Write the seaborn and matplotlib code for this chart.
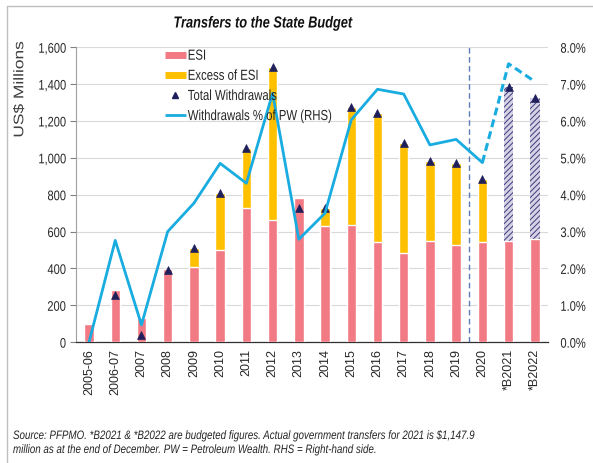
import numpy as np
import pandas as pd
import matplotlib
matplotlib.use("Agg")
import matplotlib.pyplot as plt
import seaborn as sns
from matplotlib.lines import Line2D
from matplotlib.ticker import FuncFormatter
from matplotlib.patheffects import AbstractPathEffect
from matplotlib.transforms import Affine2D

# ---------------- data ----------------
categories = ["2005-06", "2006-07", "2007", "2008", "2009", "2010", "2011", "2012",
              "2013", "2014", "2015", "2016", "2017", "2018", "2019", "2020",
              "*B2021", "*B2022"]
esi = [100, 284, 130, 396, 407, 500, 730, 663, 784, 631, 636, 544, 486, 551, 528, 544, 549, 559]
excess = [0, 0, 0, 0, 103, 308, 322, 832, 0, 99, 638, 698, 593, 432, 443, 342, 834, 764]
withdrawals = [np.nan, 256, 40, 392, 510, 808, 1052, 1495, 727, 730, 1274, 1242, 1079, 983, 971, 886, 1383, 1323]
pct_pw = [0.0, 2.76, 0.47, 3.0, 3.77, 4.85, 4.31, 6.75, 2.79, 3.5, 6.03, 6.86, 6.73, 5.35, 5.5, 4.87, 7.55, 7.07]
budgeted = ["*B2021", "*B2022"]
y_ticks = [0, 200, 400, 600, 800, 1000, 1200, 1400, 1600]
pct_ticks = [0, 1, 2, 3, 4, 5, 6, 7, 8]
legend_labels = ["ESI", "Excess of ESI", "Total Withdrawals", "Withdrawals % of PW (RHS)"]
title = "Transfers to the State Budget"
source_lines = ["Source: PFPMO. *B2021 & *B2022 are budgeted figures. Actual government transfers for 2021 is $1,147.9",
                "million as at the end of December. PW = Petroleum Wealth. RHS = Right-hand side."]

# ---------------- style ----------------
ESI_C = "#F27A84"
EXC_C = "#FFC000"
NAVY = "#1F1F5C"
LINE_C = "#18ACE0"
HATCH_FACE = "#D6D2E6"
HATCH_EDGE = "#3E3A7A"
TXT = "#262626"


class SqueezeX(AbstractPathEffect):
    """Draw text glyphs horizontally condensed (narrow-font look)."""

    def __init__(self, sx=0.8, anchor="center"):
        super().__init__()
        self.sx = sx
        self.anchor = anchor

    def draw_path(self, renderer, gc, tpath, affine, rgbFace=None):
        verts = affine.transform(tpath.vertices)
        if len(verts) == 0:
            return
        xmin, xmax = verts[:, 0].min(), verts[:, 0].max()
        x0 = {"left": xmin, "right": xmax, "center": 0.5 * (xmin + xmax)}[self.anchor]
        new = affine + Affine2D().translate(-x0, 0).scale(self.sx, 1).translate(x0, 0)
        renderer.draw_path(gc, tpath, new, rgbFace)


sns.set_theme(style="white")
plt.rcParams["font.family"] = ["Liberation Sans", "DejaVu Sans"]
plt.rcParams["hatch.linewidth"] = 0.7

n = len(categories)
pos = np.arange(n)
stack_top = [e + x for e, x in zip(esi, excess)]
df = pd.DataFrame({"cat": categories, "esi": esi, "top": stack_top})

fig = plt.figure(figsize=(5.93, 4.63), dpi=100)
ax = fig.add_axes([0.128, 0.261, 0.796, 0.637])

sns.barplot(data=df, x="cat", y="top", color=EXC_C, saturation=1, width=0.36, ax=ax, zorder=2)
for p, c in zip(list(ax.patches), categories):
    if c in budgeted:
        p.set_facecolor(HATCH_FACE)
        p.set_hatch("//////")
        p.set_edgecolor(HATCH_EDGE)
        p.set_linewidth(0)
sns.barplot(data=df, x="cat", y="esi", color=ESI_C, saturation=1, width=0.36, ax=ax, zorder=3)
sns.scatterplot(x=pos, y=withdrawals, marker="^", s=32, color=NAVY, edgecolor=NAVY,
                linewidth=0.5, ax=ax, zorder=5, legend=False)

ax.set_xlim(-0.5, n - 0.5)
ax.set_ylim(0, 1600)
ax.set_yticks(y_ticks)
ax.yaxis.set_major_formatter(FuncFormatter(lambda v, _: f"{v:,.0f}"))
ax.yaxis.grid(True, color="#D9D9D9", lw=0.8)
ax.set_axisbelow(True)
ax.set_xlabel("")
ax.set_ylabel("US$ Millions", fontsize=12.5, color="#404040", va="center", ha="center")
ax.yaxis.set_label_coords(-0.1186, 0.8576)
ax.yaxis.label.set_path_effects([SqueezeX(0.8, "center")])
ax.set_xticks(pos)
ax.set_xticklabels(categories, rotation=90, fontsize=9, color=TXT)
ax.set_xticks(np.arange(-0.5, n, 1), minor=True)
ax.tick_params(axis="x", which="major", length=0, pad=5)
ax.tick_params(axis="x", which="minor", length=4, width=0.8, direction="out", color="#303030")
ax.tick_params(axis="y", length=4, width=0.8, direction="out", color="#808080", labelsize=10,
               labelcolor=TXT, pad=3, left=True)
for lbl in ax.get_yticklabels():
    lbl.set_path_effects([SqueezeX(0.8, "right")])
for s in ["top", "right"]:
    ax.spines[s].set_visible(False)
ax.spines["left"].set_color("#A0A0A0")
ax.spines["left"].set_linewidth(0.8)
ax.spines["bottom"].set_color("#303030")
ax.spines["bottom"].set_linewidth(0.9)
ax.axvline(14.5, color="#5A7DB5", ls=(0, (4, 2.5)), lw=1, zorder=4)

ax2 = ax.twinx()
sns.lineplot(x=pos[:16], y=pct_pw[:16], color=LINE_C, lw=2, ax=ax2)
sns.lineplot(x=pos[15:], y=pct_pw[15:], color=LINE_C, lw=2.2, ls=(0, (2.6, 1.4)), ax=ax2)
ax2.set_ylim(0, 8)
ax2.set_yticks(pct_ticks)
ax2.yaxis.set_major_formatter(FuncFormatter(lambda v, _: f"{v:.1f}%"))
ax2.tick_params(axis="y", length=0, labelsize=10, labelcolor=TXT, pad=9)
for lbl in ax2.get_yticklabels():
    lbl.set_path_effects([SqueezeX(0.8, "left")])
ax2.grid(False)
for s in ax2.spines.values():
    s.set_visible(False)
ax2.set_xlim(-0.5, n - 0.5)

handles = [Line2D([], [], color=ESI_C, lw=5, solid_capstyle="butt"),
           Line2D([], [], color=EXC_C, lw=5, solid_capstyle="butt"),
           Line2D([], [], marker="^", color=NAVY, ls="none", markersize=5),
           Line2D([], [], color=LINE_C, lw=2, solid_capstyle="butt")]
leg = ax2.legend(handles, legend_labels, loc="upper left", bbox_to_anchor=(0.186, 1.0),
                 frameon=False, fontsize=10.5, handlelength=1.4, labelspacing=0.42,
                 handletextpad=0.15, borderaxespad=0, borderpad=0.1)
for t in leg.get_texts():
    t.set_color(TXT)
    t.set_path_effects([SqueezeX(0.78, "left")])

fig.text(263 / 593, 1 - 27.5 / 463, title, ha="center", va="baseline",
         fontsize=11.5, fontweight="bold", fontstyle="italic", color="#111111",
         path_effects=[SqueezeX(0.8, "center")])
for i, line in enumerate(source_lines):
    fig.text(13 / 593, 1 - (439 + 14 * i) / 463, line, ha="left", va="baseline",
             fontsize=8.8, fontstyle="italic", color=TXT,
             path_effects=[SqueezeX(0.8, "left")])

fig.add_artist(Line2D([7 / 593, 1.0], [1 - 6 / 463, 1 - 6 / 463], transform=fig.transFigure,
                      color="#BFBFBF", lw=1))
fig.add_artist(Line2D([7 / 593, 7 / 593], [0, 1 - 6 / 463], transform=fig.transFigure,
                      color="#BFBFBF", lw=1))

fig.savefig("out.png", dpi=100)
